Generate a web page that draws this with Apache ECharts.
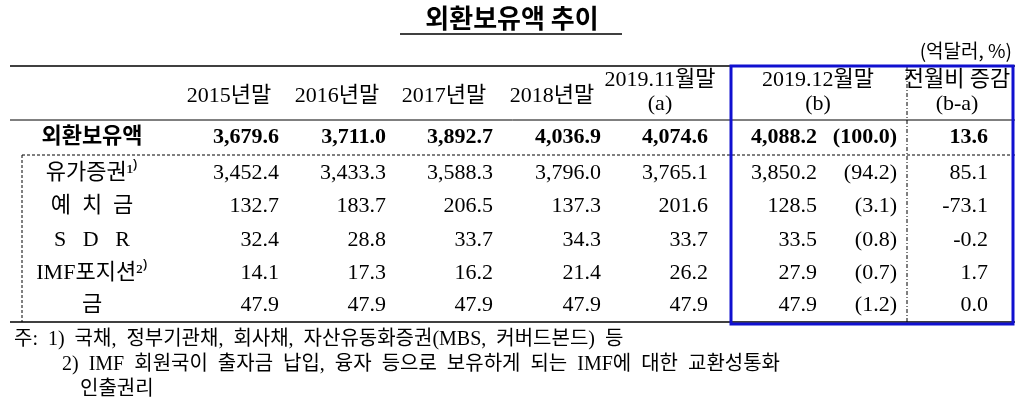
<!DOCTYPE html>
<html><head><meta charset="utf-8">
<script src="https://cdn.jsdelivr.net/npm/echarts@6/dist/echarts.min.js"></script>
<style>html,body{margin:0;background:#fff}#c{width:1024px;height:408px}</style>
</head><body><div id="c"></div>
<script>
const title = '외환보유액 추이';
const unit = '(억달러, %)';
const headers = ['2015년말','2016년말','2017년말','2018년말','2019.11월말\n(a)','2019.12월말\n(b)','전월비 증감\n(b-a)'];
const rowLabels = ['외환보유액','유가증권¹⁾','예  치  금','S   D   R','IMF포지션²⁾','금'];
const y2015 = ['3,679.6','3,452.4','132.7','32.4','14.1','47.9'];
const y2016 = ['3,711.0','3,433.3','183.7','28.8','17.3','47.9'];
const y2017 = ['3,892.7','3,588.3','206.5','33.7','16.2','47.9'];
const y2018 = ['4,036.9','3,796.0','137.3','34.3','21.4','47.9'];
const m201911 = ['4,074.6','3,765.1','201.6','33.7','26.2','47.9'];
const m201912 = ['4,088.2','3,850.2','128.5','33.5','27.9','47.9'];
const share = ['(100.0)','(94.2)','(3.1)','(0.8)','(0.7)','(1.2)'];
const diff = ['13.6','85.1','-73.1','-0.2','1.7','0.0'];
const notes = ['주:  1)  국채,  정부기관채,  회사채,  자산유동화증권(MBS,  커버드본드)  등','2)  IMF  회원국이  출자금  납입,  융자  등으로  보유하게  되는  IMF에  대한  교환성통화','인출권리'];

const F = '"Liberation Serif","Noto Sans CJK KR",serif';
const K = '"Noto Sans CJK KR",sans-serif';
const g = [];
function txt(x,y,s,o){g.push({type:'text',x,y,style:Object.assign({text:s,fill:'#000',font:'22px '+F,textVerticalAlign:'middle'},o||{})});}
function line(x1,y1,x2,y2,o){g.push({type:'line',shape:{x1,y1,x2,y2},style:Object.assign({stroke:'#000',lineWidth:1},o||{})});}

txt(512,18,title,{textAlign:'center',font:'bold 26px '+K});
line(400,34,622,34,{lineWidth:1.5});
txt(1012,51,unit,{textAlign:'right',font:'19px '+K});
line(10,66,1015,66,{lineWidth:1.5});
line(10,120,1015,120);
line(22,155,1015,155,{lineDash:[3,2]});
line(22,155,22,322,{lineDash:[3,2]});
line(10,322,1015,322,{lineWidth:1.5});
line(907,66,907,322,{lineDash:[4,2,1,2]});

const hc=[229,337,444,552,660,818,957];
headers.forEach((h,i)=>{
  const p=h.split('\n');
  if(p.length===1) txt(hc[i],96,p[0],{textAlign:'center'});
  else {txt(hc[i],80,p[0],{textAlign:'center'});txt(hc[i],104,p[1],{textAlign:'center'});}
});
const rowY=[137,173,206,240,273,305];
const cols=[[y2015,279],[y2016,386],[y2017,493],[y2018,601],[m201911,708],[m201912,817],[share,897],[diff,988]];
rowLabels.forEach((r,i)=>{
  const bold=i===0;
  txt(92,rowY[i],r,{textAlign:'center',font:(bold?'bold ':'')+'22px '+F});
  cols.forEach(([arr,x])=>txt(x,rowY[i],arr[i],{textAlign:'right',font:(bold?'bold ':'')+'22px '+F}));
});
g.push({type:'rect',shape:{x:731,y:66,width:282,height:258},style:{fill:'none',stroke:'#1010d0',lineWidth:3}});
txt(14,340,notes[0],{font:'20px '+F});
txt(62,365,notes[1],{font:'20px '+F});
txt(80,390,notes[2],{font:'20px '+F});

const ch=echarts.init(document.getElementById('c'));
ch.setOption({animation:false,graphic:{elements:g}});
</script></body></html>
